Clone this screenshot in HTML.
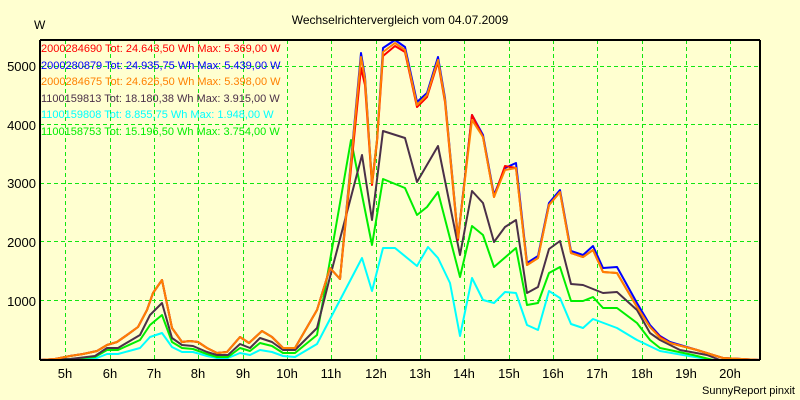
<!DOCTYPE html>
<html><head><meta charset="utf-8"><style>
html,body{margin:0;padding:0;background:#FFFFD0;}
svg{display:block;font-family:"Liberation Sans",sans-serif;}
</style></head><body>
<svg width="800" height="400" xmlns="http://www.w3.org/2000/svg">
<rect width="800" height="400" fill="#FFFFD0"/>
<g stroke="#11E611" stroke-width="1" stroke-dasharray="4,3">
<line x1="40" x2="760" y1="300.5" y2="300.5"/><line x1="40" x2="760" y1="241.5" y2="241.5"/>
<line x1="40" x2="760" y1="183.5" y2="183.5"/><line x1="40" x2="760" y1="124.5" y2="124.5"/>
<line x1="40" x2="760" y1="66.5" y2="66.5"/>
<line x1="65.5" x2="65.5" y1="40" y2="359"/><line x1="110.5" x2="110.5" y1="40" y2="359"/>
<line x1="154.5" x2="154.5" y1="40" y2="359"/><line x1="198.5" x2="198.5" y1="40" y2="359"/>
<line x1="243.5" x2="243.5" y1="40" y2="359"/><line x1="287.5" x2="287.5" y1="40" y2="359"/>
<line x1="331.5" x2="331.5" y1="40" y2="359"/><line x1="376.5" x2="376.5" y1="40" y2="359"/>
<line x1="420.5" x2="420.5" y1="40" y2="359"/><line x1="464.5" x2="464.5" y1="40" y2="359"/>
<line x1="509.5" x2="509.5" y1="40" y2="359"/><line x1="553.5" x2="553.5" y1="40" y2="359"/>
<line x1="597.5" x2="597.5" y1="40" y2="359"/><line x1="642.5" x2="642.5" y1="40" y2="359"/>
<line x1="686.5" x2="686.5" y1="40" y2="359"/><line x1="730.5" x2="730.5" y1="40" y2="359"/>
</g>
<g fill="none" stroke-width="2" stroke-linejoin="round">
<polyline stroke="#00FFFF" points="40,360 75,360 97,358 107,354 118,354 140,348 150,337 162,333 172,347 182,352 193,352 207,356 217,358 228,358 240,353 250,355 260,350 272,352 283,356 295,357 317,344 362,258 372,291 383,248 395,248 417,266 428,247 438,258 450,283 460,336 472,278 483,300 494,303 505,292 516,293 527,325 538,330 549,291 560,298 571,324 583,328 593,319 617,328 637,340 660,351 683,355 713,360 760,360"/>
<polyline stroke="#00EE00" points="40,360 70,359 95,357 107,350 118,350 140,340 150,325 162,315 172,342 182,348 193,349 207,354 217,357 228,357 240,348 250,351 260,343 272,346 283,353 295,353 317,335 351,140 372,245 383,179 405,188 417,215 427,207 438,192 460,277 472,226 483,235 494,267 516,248 527,305 538,303 549,273 560,267 571,301 583,301 593,297 603,308 617,308 637,323 650,340 660,348 693,355 713,360 760,360"/>
<polyline stroke="#4A3048" points="40,360 70,359 95,356 107,348 118,348 140,335 150,315 162,303 172,338 182,345 193,346 207,352 217,355 228,355 240,344 250,348 260,338 272,342 283,350 295,350 317,328 330,277 362,155 372,220 383,131 405,138 417,182 438,146 460,255 472,191 483,203 494,242 505,227 516,220 527,293 538,287 549,249 560,241 571,284 583,285 603,293 617,292 637,310 650,333 660,340 680,350 707,355 720,360 760,360"/>
<polyline stroke="#0000FF" points="40,360 55,359 70,356 83,354 97,351 107,345 117,342 127,335 138,327 147,310 153,293 162,280 172,328 182,342 190,341 198,342 207,348 217,353 227,352 240,337 249,343 262,331 272,337 283,348 295,348 317,310 330,268 340,279 361,53 365,77 372,183 377,140 383,48 395,40 405,47 417,102 427,93 438,57 445,98 458,238 472,115 483,135 494,195 505,168 516,163 527,263 538,256 549,203 560,190 571,251 583,255 593,246 603,268 617,267 637,303 650,325 660,336 670,342 697,350 713,355 723,358 760,360"/>
<polyline stroke="#FF0000" points="40,360 55,359 70,356 83,354 97,351 107,345 117,342 127,335 138,327 147,310 153,293 162,280 172,328 182,342 190,341 198,342 207,348 217,353 227,352 240,337 249,343 262,331 272,337 283,348 295,348 317,310 330,268 340,279 361,68 365,85 372,185 377,142 383,56 395,46 405,52 417,107 427,97 438,62 445,102 458,240 472,115 483,137 494,197 505,166 516,168 527,265 538,258 549,205 560,192 571,253 583,257 593,250 603,272 617,273 637,307 650,327 660,337 670,343 697,350 713,355 723,358 760,360"/>
<polyline stroke="#FF8000" points="40,360 55,359 70,356 83,354 97,351 107,345 117,342 127,335 138,327 147,310 153,293 162,280 172,328 182,342 190,341 198,342 207,348 217,353 227,352 240,337 249,343 262,331 272,337 283,348 295,348 317,310 330,268 340,279 361,57 365,79 372,183 377,140 383,52 395,43 405,50 417,105 427,95 438,60 445,100 458,238 472,120 483,137 494,197 505,170 516,168 527,265 538,258 549,205 560,192 571,253 583,257 593,250 603,272 617,273 637,307 650,327 660,338 670,343 697,350 713,355 723,358 760,360"/>
</g>
<g stroke="#000" stroke-width="2" fill="none">
<line x1="40" y1="40" x2="760" y2="40"/><line x1="40" y1="40" x2="40" y2="360"/>
<line x1="40" y1="360" x2="760" y2="360"/><line x1="760" y1="40" x2="760" y2="360"/>
</g>
<text x="400" y="24" font-size="12" text-anchor="middle">Wechselrichtervergleich vom 04.07.2009</text>
<text x="34" y="29" font-size="12">W</text>
<g font-size="13" text-anchor="end">
<text x="36" y="71">5000</text><text x="36" y="130">4000</text><text x="36" y="188">3000</text>
<text x="36" y="247">2000</text><text x="36" y="306">1000</text>
</g>
<g font-size="13" text-anchor="middle">
<text x="65" y="378">5h</text><text x="110" y="378">6h</text><text x="154" y="378">7h</text>
<text x="198" y="378">8h</text><text x="243" y="378">9h</text><text x="287" y="378">10h</text>
<text x="331" y="378">11h</text><text x="376" y="378">12h</text><text x="420" y="378">13h</text>
<text x="464" y="378">14h</text><text x="509" y="378">15h</text><text x="553" y="378">16h</text>
<text x="597" y="378">17h</text><text x="642" y="378">18h</text><text x="686" y="378">19h</text>
<text x="730" y="378">20h</text>
</g>
<text x="795" y="394" font-size="11" text-anchor="end">SunnyReport pinxit</text>
<g font-size="11">
<text x="41" y="52" fill="#FF0000">2000284690 Tot: 24.643,50 Wh Max: 5.369,00 W</text>
<text x="41" y="69" fill="#0000FF">2000280879 Tot: 24.935,75 Wh Max: 5.439,00 W</text>
<text x="41" y="85" fill="#FF8000">2000284675 Tot: 24.626,50 Wh Max: 5.398,00 W</text>
<text x="41" y="102" fill="#4A3048">1100159813 Tot: 18.180,38 Wh Max: 3.915,00 W</text>
<text x="41" y="118" fill="#00FFFF">1100159808 Tot: 8.855,75 Wh Max: 1.948,00 W</text>
<text x="41" y="135" fill="#00EE00">1100158753 Tot: 15.196,50 Wh Max: 3.754,00 W</text>
</g>
</svg>
</body></html>
